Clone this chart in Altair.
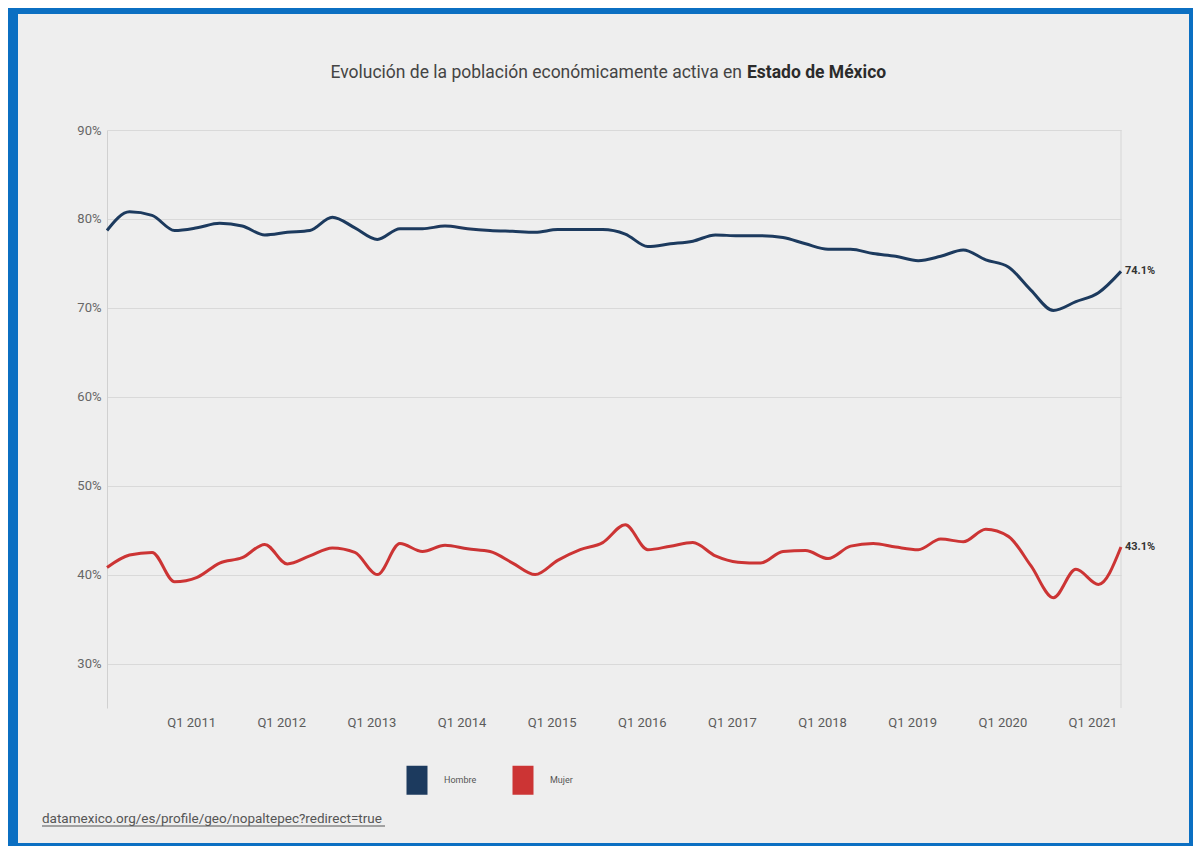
import altair as alt
import pandas as pd

quarters = [f"Q{q} {y}" for y in range(2010, 2022) for q in range(1, 5)][:46]
hombre = [78.7, 80.8, 80.4, 78.7, 79.0, 79.5, 79.2, 78.2, 78.5, 78.7, 80.2, 79.0,
          77.7, 78.9, 78.9, 79.2, 78.9, 78.7, 78.6, 78.5, 78.8, 78.8, 78.8, 78.3,
          76.9, 77.2, 77.5, 78.2, 78.1, 78.1, 77.9, 77.2, 76.6, 76.6, 76.1, 75.8,
          75.3, 75.8, 76.5, 75.4, 74.6, 72.0, 69.7, 70.7, 71.7, 74.1]
mujer = [40.8, 42.2, 42.5, 39.2, 39.7, 41.3, 41.9, 43.4, 41.2, 42.1, 43.0, 42.5,
         40.0, 43.5, 42.6, 43.3, 42.9, 42.6, 41.3, 40.0, 41.6, 42.8, 43.6, 45.6,
         42.8, 43.2, 43.6, 42.1, 41.4, 41.3, 42.6, 42.7, 41.8, 43.2, 43.5, 43.1,
         42.8, 44.0, 43.7, 45.1, 44.3, 41.0, 37.4, 40.6, 38.9, 43.1]
series = ["Hombre", "Mujer"]
colors = ["#1c3a5e", "#cc3434"]
y_ticks = [30, 40, 50, 60, 70, 80, 90]
x_ticks = list(range(2011, 2022))

title_normal = "Evolución de la población económicamente activa en"
title_bold = "Estado de México"
source = "datamexico.org/es/profile/geo/nopaltepec?redirect=true"

rows = []
for i, q in enumerate(quarters):
    t = int(q[3:]) + (int(q[1]) - 1) / 4
    rows.append({"quarter": q, "t": t, "sexo": "Hombre", "valor": hombre[i]})
    rows.append({"quarter": q, "t": t, "sexo": "Mujer", "valor": mujer[i]})
df = pd.DataFrame(rows)
t_last = df["t"].max()

FONT = "Roboto"
W, H = 1014, 578

x = alt.X("t:Q", scale=alt.Scale(domain=[2010, 2021.25], nice=False, zero=False),
          axis=alt.Axis(values=x_ticks, labelExpr="'Q1 ' + datum.value", title=None,
                        grid=False, domain=False, ticks=False, labelFontSize=13,
                        labelColor="#5b5b5b", labelPadding=8, labelOffset=-6, labelFont=FONT))
y = alt.Y("valor:Q", scale=alt.Scale(domain=[25, 90], nice=False, zero=False),
          axis=alt.Axis(values=y_ticks, labelExpr="datum.value + '%'", title=None,
                        grid=True, gridColor="#d9d9d9", gridWidth=1, domain=True,
                        domainColor="#d0d0d0", ticks=False, labelFontSize=13,
                        labelColor="#666666", labelPadding=6, labelFont=FONT))
color = alt.Color("sexo:N", scale=alt.Scale(domain=series, range=colors),
                  legend=alt.Legend(title=None, orient="none", legendX=285, legendY=625,
                                    direction="horizontal",
                                    symbolType="M0,-1V1", symbolSize=841,
                                    symbolStrokeWidth=21, symbolOpacity=1,
                                    labelFontSize=9, labelColor="#555555", labelFont=FONT,
                                    labelOffset=2, columnPadding=4, padding=0))

base = alt.Chart(df)
lines = base.mark_line(interpolate="monotone").encode(
    x=x, y=y, color=color, strokeWidth=alt.value(3))
ends = base.transform_filter(f"datum.t == {t_last}").transform_calculate(
    lbl="format(datum.valor, '.1f') + '%'"
).mark_text(
    align="left", dx=4, fontSize=11, fontWeight="bold", font=FONT, color="#333333"
).encode(x=x, y=y, text="lbl:N")

one = pd.DataFrame({"k": [0]})
deco = alt.Chart(one)
rule_right = deco.mark_rule(color="#d6d6d6", strokeWidth=1).encode(
    x=alt.value(W), y=alt.value(0), y2=alt.value(H))
t1 = deco.mark_text(align="right", baseline="middle", fontSize=17.5, font=FONT,
                    color="#444444").encode(x=alt.value(635), y=alt.value(-57),
                                            text=alt.value(title_normal))
t2 = deco.mark_text(align="left", baseline="middle", fontSize=17.5, font=FONT,
                    fontWeight="bold", color="#2b2b2b").encode(
    x=alt.value(640), y=alt.value(-57), text=alt.value(title_bold))
src = deco.mark_text(align="left", baseline="alphabetic", fontSize=13.5, font=FONT,
                     color="#555555").encode(x=alt.value(-65), y=alt.value(693),
                                             text=alt.value(source))
underline = deco.mark_rule(color="#555555", strokeWidth=1).encode(
    x=alt.value(-65), x2=alt.value(278), y=alt.value(696))

frame_col = "#0b6fc2"
f_left = deco.mark_rect(color=frame_col).encode(
    x=alt.value(-99), x2=alt.value(-89), y=alt.value(-122), y2=alt.value(716))
f_top = deco.mark_rect(color=frame_col).encode(
    x=alt.value(-99), x2=alt.value(1086), y=alt.value(-122), y2=alt.value(-116))
f_right = deco.mark_rect(color=frame_col).encode(
    x=alt.value(1082), x2=alt.value(1086), y=alt.value(-122), y2=alt.value(716))
f_bottom = deco.mark_rect(color=frame_col).encode(
    x=alt.value(-99), x2=alt.value(1086), y=alt.value(713), y2=alt.value(716))

chart = alt.layer(
    f_left, f_top, f_right, f_bottom, rule_right, lines, ends,
    t1, t2, src, underline
).properties(
    width=W, height=H,
    autosize=alt.AutoSizeParams(type="none"),
    padding={"left": 99, "top": 122, "right": 72, "bottom": 138},
    background="#eeeeee",
).configure_view(stroke=None)

chart.save("out.html", embed_options={"renderer": "svg", "actions": False})
